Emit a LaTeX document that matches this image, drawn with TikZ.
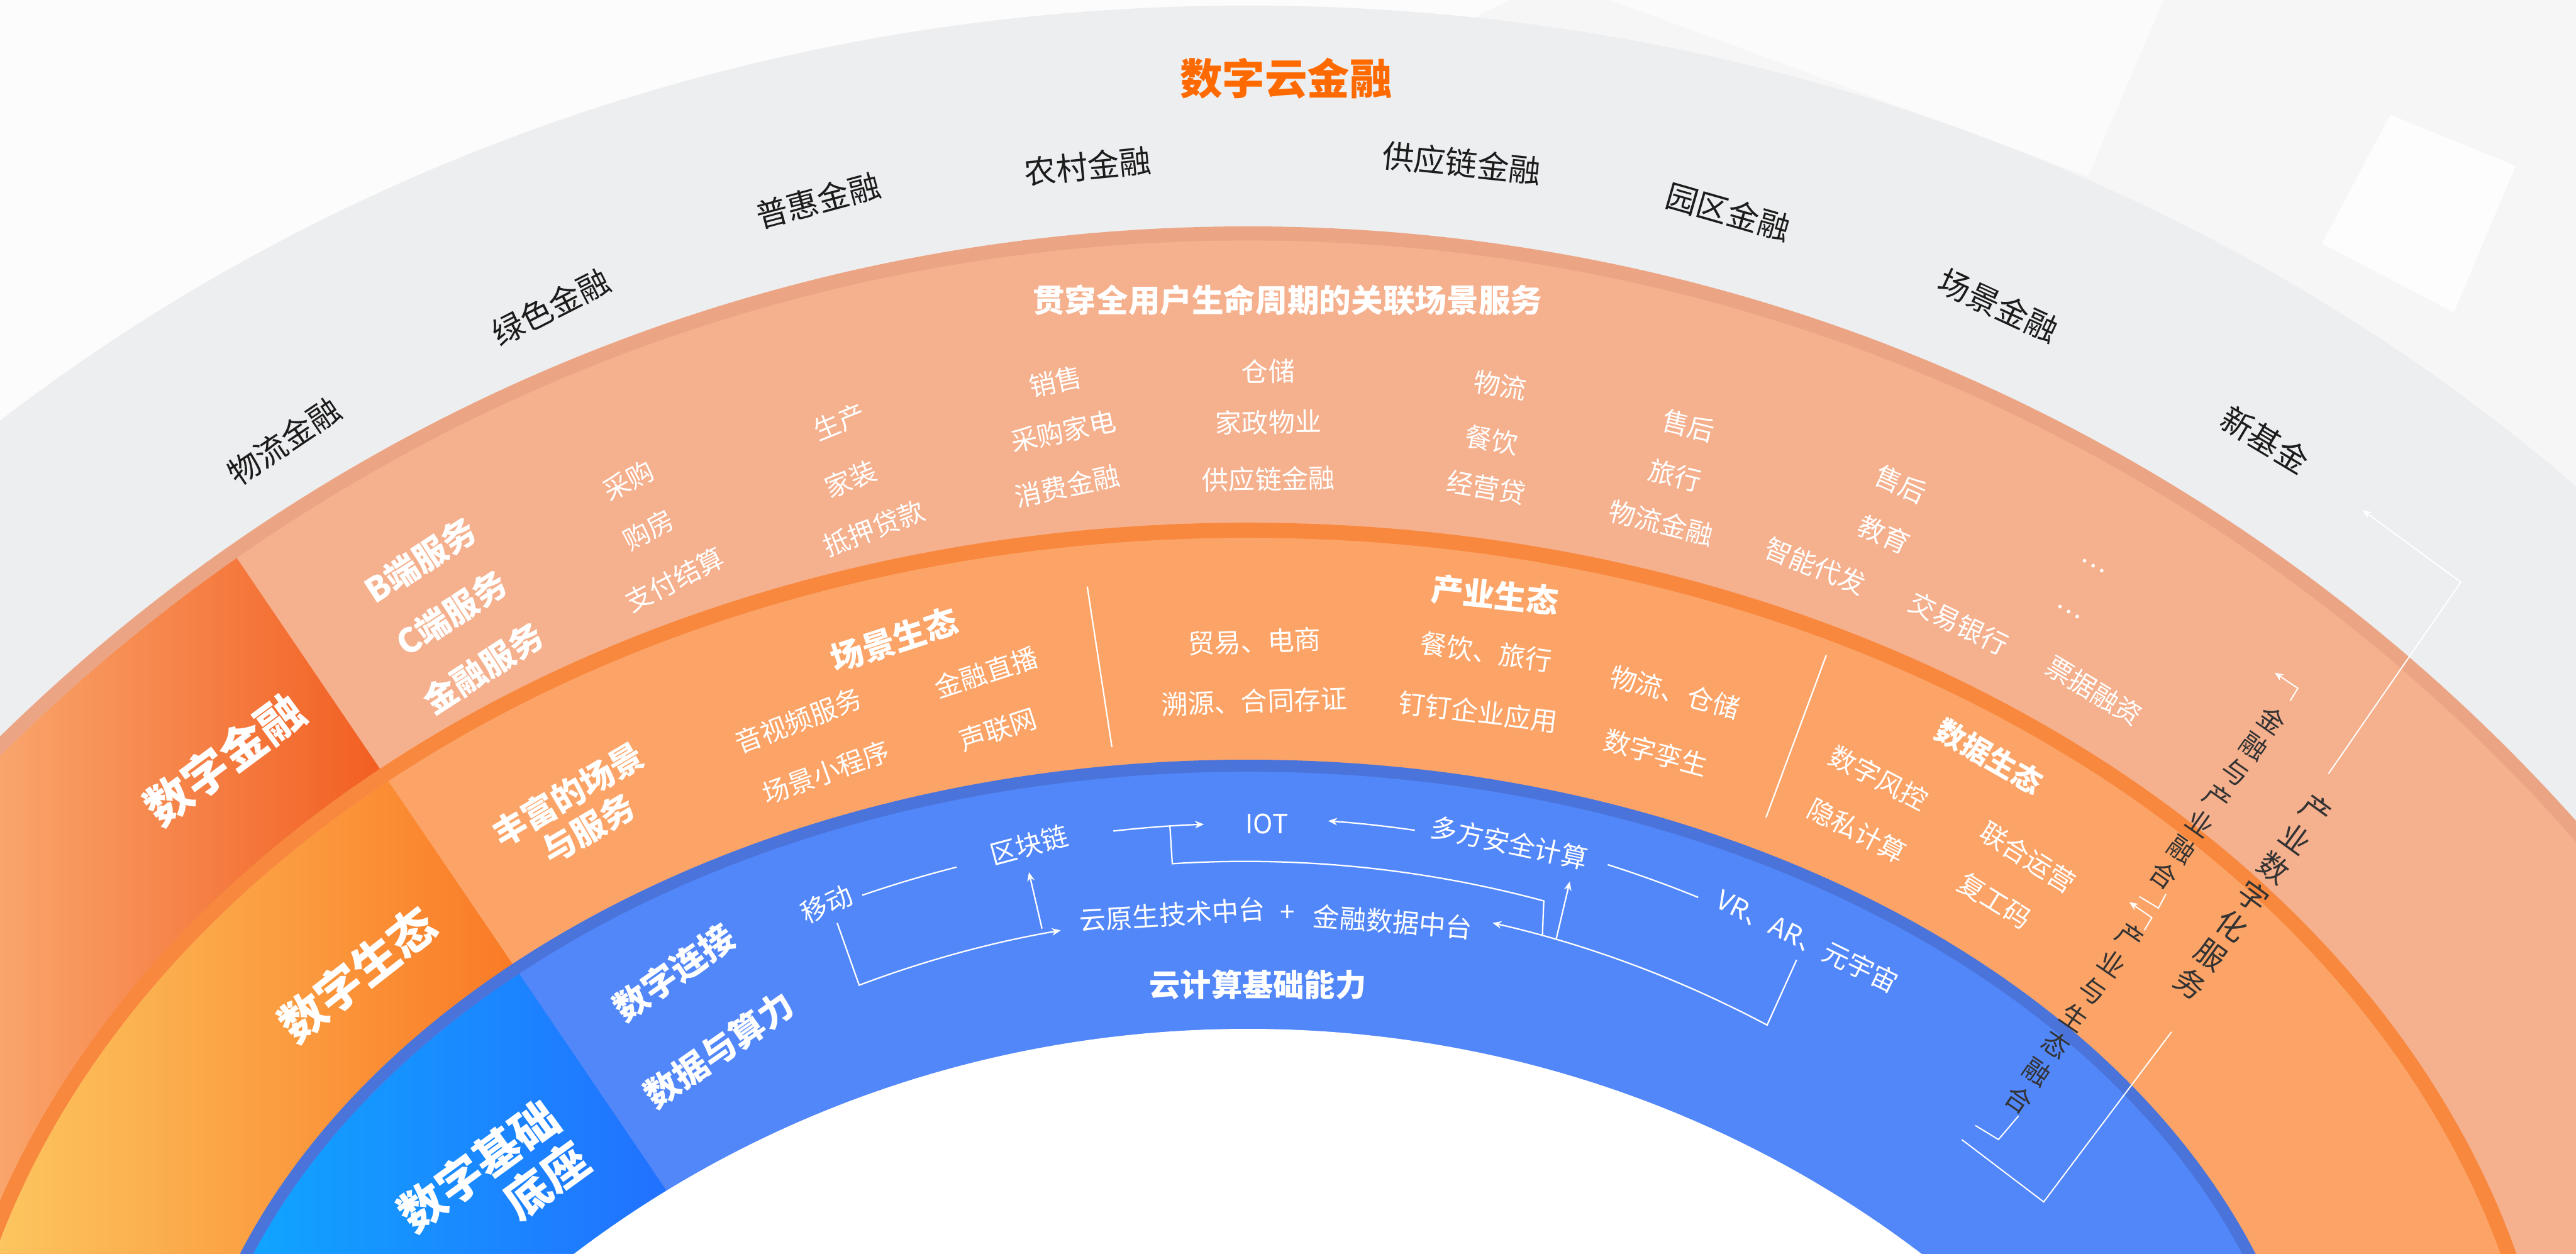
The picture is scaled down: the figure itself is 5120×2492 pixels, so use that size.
\documentclass[tikz,border=0pt]{standalone}
\usepackage{fontspec}
\setmainfont{Noto Sans CJK SC}
\usetikzlibrary{arrows.meta}
\definecolor{bgc}{HTML}{F6F6F7}
\definecolor{grayband}{HTML}{EDEEF0}
\definecolor{salrim}{HTML}{ECA584}
\definecolor{salband}{HTML}{F5B08D}
\definecolor{orrim}{HTML}{F8883E}
\definecolor{orband}{HTML}{FCA467}
\definecolor{bluerim}{HTML}{4B74DB}
\definecolor{blueband}{HTML}{5287FA}
\definecolor{blkAl}{HTML}{F9A56C}
\definecolor{blkAr}{HTML}{F25D20}
\definecolor{blkBl}{HTML}{FCC55F}
\definecolor{blkBr}{HTML}{FA7A26}
\definecolor{blkCl}{HTML}{0FA7FF}
\definecolor{blkCr}{HTML}{2270FF}
\definecolor{titleor}{HTML}{FF6A00}
\definecolor{lbl}{HTML}{1C1C1C}
\definecolor{vtxt}{HTML}{333333}
\tikzset{
  glabel/.style={text=lbl, inner sep=0pt, font=\fontsize{18}{20}\selectfont},
  wlight/.style={text=white, inner sep=0pt, font=\fontsize{15}{17}\selectfont},
  wbold/.style={text=white, inner sep=0pt, font=\bfseries\fontsize{19}{21}\selectfont},
  wbig/.style={text=white, inner sep=0pt, font=\bfseries\fontsize{26}{29}\selectfont},
  vcol/.style={text=vtxt, inner sep=0pt, align=center},
  conn/.style={draw=white, line width=0.8pt},
  tip/.style={-{Stealth[length=5pt,width=4.2pt]}},
}
\begin{document}
\begin{tikzpicture}[x=0.01cm,y=0.01cm]
\useasboundingbox (0,0) rectangle (5120,-2492);
\begin{scope}
\clip (0,0) rectangle (5120,-2492);
\fill[bgc] (0,0) rectangle (5120,-2492);
\fill[white,opacity=0.7] (0,0) -- (3000,0) -- (0,-1500) -- cycle;
\fill[white,opacity=0.8] (4615,-484) -- (4751,-228) -- (5000,-330) -- (4877,-621) -- cycle;
\fill[white,opacity=0.6] (3200,0) -- (4300,0) -- (4150,-350) -- cycle;
% bands
\fill[grayband] (2480,-3500) ellipse [x radius=3840, y radius=3489];
\fill[salrim] (2480,-3990) circle [radius=3540];
\fill[salband] (2480,-3990) circle [radius=3512];
\begin{scope}
\clip (2480,-3990) circle [radius=3512];
\clip (-600,0) -- (-283,0) -- (1410,-2492) -- (-600,-2492) -- cycle;
\shade[left color=blkAl, right color=blkAr] (0,0) rectangle (770,-2492);
\end{scope}
\fill[orrim] (2480,-3000) ellipse [x radius=2610, y radius=1961];
\fill[orband] (2480,-3000) ellipse [x radius=2580, y radius=1931];
\begin{scope}
\clip (2480,-3000) ellipse [x radius=2580, y radius=1931];
\clip (-600,0) -- (-283,0) -- (1410,-2492) -- (-600,-2492) -- cycle;
\shade[left color=blkBl, right color=blkBr] (0,0) rectangle (1030,-2492);
\end{scope}
\fill[bluerim] (2480,-3000) ellipse [x radius=2130, y radius=1490];
\fill[blueband] (2480,-3000) ellipse [x radius=2106, y radius=1466];
\begin{scope}
\clip (2480,-3000) ellipse [x radius=2106, y radius=1466];
\clip (-600,0) -- (-283,0) -- (1410,-2492) -- (-600,-2492) -- cycle;
\shade[left color=blkCl, right color=blkCr] (460,0) rectangle (1340,-2492);
\end{scope}
\fill[white] (2480,-4100) ellipse [x radius=2150, y radius=2055];
\end{scope}

% title and gray band labels
\node[text=titleor, inner sep=0pt, font=\bfseries\fontsize{24}{26}\selectfont] (title) at (2556,-156) {数字云金融};
\node[glabel, rotate=34] (g1) at (564,-877) {物流金融};
\node[glabel, rotate=27] (g2) at (1095,-610) {绿色金融};
\node[glabel, rotate=15] (g3) at (1626,-398) {普惠金融};
\node[glabel, rotate=5.7] (g4) at (2162,-330) {农村金融};
\node[glabel, rotate=-6] (g5) at (2905,-324) {供应链金融};
\node[glabel, rotate=-16] (g6) at (3435,-421) {园区金融};
\node[glabel, rotate=-24.8] (g7) at (3972,-607) {场景金融};
\node[glabel, rotate=-31] (g8) at (4502,-874) {新基金};

% salmon band
\node[wbold, font=\bfseries\fontsize{18}{20}\selectfont] (sTitle) at (2559,-597) {贯穿全用户生命周期的关联场景服务};
\node[wbold, rotate=33] (sB) at (835,-1114) {B端服务};
\node[wbold, rotate=33] (sC) at (897,-1219) {C端服务};
\node[wbold, rotate=33] (sF) at (960,-1328) {金融服务};
\node[wlight, rotate=28] (s11) at (1249,-955) {采购};
\node[wlight, rotate=28] (s12) at (1289,-1053) {购房};
\node[wlight, rotate=27] (s13) at (1341,-1152) {支付结算};
\node[wlight, rotate=22] (s21) at (1668,-839) {生产};
\node[wlight, rotate=22] (s22) at (1691,-952) {家装};
\node[wlight, rotate=21] (s23) at (1737,-1050) {抵押贷款};
\node[wlight, rotate=12] (s31) at (2098,-759) {销售};
\node[wlight, rotate=12] (s32) at (2113,-857) {采购家电};
\node[wlight, rotate=12] (s33) at (2121,-966) {消费金融};
\node[wlight, rotate=1] (s41) at (2521,-738) {仓储};
\node[wlight, rotate=1] (s42) at (2521,-839) {家政物业};
\node[wlight, rotate=1] (s43) at (2521,-952) {供应链金融};
\node[wlight, rotate=-9.5] (s51) at (2982,-766) {物流};
\node[wlight, rotate=-9.5] (s52) at (2965,-875) {餐饮};
\node[wlight, rotate=-9.5] (s53) at (2954,-969) {经营贷};
\node[wlight, rotate=-14] (s61) at (3356,-846) {售后};
\node[wlight, rotate=-14] (s62) at (3329,-945) {旅行};
\node[wlight, rotate=-14] (s63) at (3302,-1039) {物流金融};
\node[wlight, rotate=-24] (s71) at (3778,-962) {售后};
\node[wlight, rotate=-24] (s72) at (3745,-1062) {教育};
\node[wlight, rotate=-22] (s73) at (3608,-1125) {智能代发};
\node[wlight, rotate=-26] (s81) at (3893,-1239) {交易银行};
\node[wlight, rotate=-31] (s82) at (4162,-1373) {票据融资};
\node[wlight, rotate=-30] (s91) at (4160,-1125) {…};
\node[wlight, rotate=-30] (s92) at (4111,-1216) {…};

% left blocks
\node[wbig, rotate=36.5] (kA) at (446,-1509) {数字金融};
\node[wbig, rotate=38] (kB) at (710,-1937) {数字生态};
\node[wbig, rotate=36, align=right] (kC) at (981,-2359) {数字基础\\底座};

% orange band
\node[wbold, rotate=30.5, align=center, font=\bfseries\fontsize{19}{22.3}\selectfont] (oR) at (1149,-1613) {丰富的场景\\与服务};
\node[wbold, rotate=18, font=\bfseries\fontsize{18.5}{20}\selectfont] (oS) at (1777,-1271) {场景生态};
\node[wlight, rotate=18] (o11) at (1960,-1336) {金融直播};
\node[wlight, rotate=21] (o12) at (1587,-1432) {音视频服务};
\node[wlight, rotate=18] (o13) at (1983,-1450) {声联网};
\node[wlight, rotate=20] (o14) at (1642,-1535) {场景小程序};
\node[wbold, rotate=-6, font=\bfseries\fontsize{18}{20}\selectfont] (oI) at (2971,-1183) {产业生态};
\node[wlight, rotate=2] (o21) at (2493,-1275) {贸易、电商};
\node[wlight, rotate=2] (o22) at (2493,-1394) {溯源、合同存证};
\node[wlight, rotate=-8] (o23) at (2954,-1296) {餐饮、旅行};
\node[wlight, rotate=-7] (o24) at (2938,-1415) {钉钉企业应用};
\node[wlight, rotate=-15] (o25) at (3329,-1376) {物流、仓储};
\node[wlight, rotate=-15] (o26) at (3291,-1496) {数字孪生};
\node[wbold, rotate=-30, font=\bfseries\fontsize{16.5}{18}\selectfont] (oD) at (3954,-1503) {数据生态};
\node[wlight, rotate=-27.4] (o31) at (3734,-1546) {数字风控};
\node[wlight, rotate=-27.4] (o32) at (3691,-1651) {隐私计算};
\node[wlight, rotate=-32] (o33) at (4030,-1704) {联合运营};
\node[wlight, rotate=-32] (o34) at (3965,-1790) {复工码};
\coordinate (d1a) at (2161,-1166);
\coordinate (d1b) at (2210,-1485);
\coordinate (d2a) at (3630,-1302);
\coordinate (d2b) at (3510,-1625);
\draw[conn] (d1a) -- (d1b);
\draw[conn] (d2a) -- (d2b);

% blue band
\node[wbold, rotate=35, font=\bfseries\fontsize{19.5}{21}\selectfont] (bC) at (1339,-1933) {数字连接};
\node[wbold, rotate=35, font=\bfseries\fontsize{19.5}{21}\selectfont] (bD) at (1429,-2086) {数据与算力};
\node[wbold, font=\bfseries\fontsize{17.5}{19}\selectfont] (bY) at (2500,-1957) {云计算基础能力};
\node[wlight, rotate=25] (tM) at (1643,-1797) {移动};
\node[wlight, rotate=15] (tB) at (2045,-1679) {区块链};
\node[wlight] (tI) at (2518,-1637) {IOT};
\node[wlight, rotate=-12] (tD) at (3000,-1675) {多方安全计算};
\node[wlight, rotate=-26] (tV) at (3593,-1870) {VR、AR、元宇宙};
\node[wlight, rotate=3.7] (tP1) at (2330,-1818) {云原生技术中台};
\node[wlight] (tP2) at (2559,-1816) {+};
\node[wlight, rotate=-4.3] (tP3) at (2768,-1832) {金融数据中台};

\begin{scope}[shift={(2475,-3990)}]
 \coordinate (aMa) at (109.0:2338);
 \draw[conn] (aMa) arc[start angle=109.0, end angle=104.2, radius=2338];
 \coordinate (aBa) at (96.4:2353);
 \draw[conn,tip] (aBa) arc[start angle=96.4, end angle=92.0, radius=2353];
 \coordinate (aDa) at (81.8:2364);
 \draw[conn,tip] (aDa) arc[start angle=81.8, end angle=86.0, radius=2364];
 \coordinate (aVa) at (72.4:2383);
 \draw[conn] (aVa) arc[start angle=72.4, end angle=67.8, radius=2383];
 \coordinate (bIa) at (93.65:2353);
 \coordinate (bIb) at (93.65:2278);
 \coordinate (bIc) at (74.5:2210);
 \draw[conn] (bIa) -- (bIb) arc[start angle=93.65, end angle=74.9, radius=2278] -- (bIc);
 \coordinate (uBa) at (100.67:2182);
 \coordinate (uBb) at (100.79:2297);
 \draw[conn,tip] (uBa) -- (uBb);
 \coordinate (bMa) at (110.62:2303);
 \coordinate (bMb) at (110.69:2172);
 \draw[conn,tip] (bMa) -- (bMb) arc[start angle=110.69, end angle=99.72, radius=2172];
 \coordinate (uDa) at (73.77:2211);
 \coordinate (uDb) at (73.92:2329);
 \draw[conn,tip] (uDa) -- (uDb);
 \coordinate (bVa) at (62.24:2353);
 \coordinate (bVb) at (62.02:2211);
 \draw[conn,tip] (bVa) -- (bVb) arc[start angle=62.02, end angle=77.15, radius=2211];
\end{scope}

% right side vertical texts
\node[vcol, rotate=-36, font=\fontsize{17}{20.2}\selectfont] (va) at (4478,-1782) {产\\业\\数\\字\\化\\服\\务};
\node[vcol, rotate=-35, font=\fontsize{15}{17.8}\selectfont] (vb) at (4408,-1585) {金\\融\\与\\产\\业\\融\\合};
\node[vcol, rotate=-34.5, font=\fontsize{15}{18.6}\selectfont] (vc) at (4123,-2023) {产\\业\\与\\生\\态\\融\\合};

% right brackets
\coordinate (R1) at (3899,-2265);
\coordinate (R2) at (4062,-2389);
\coordinate (R3) at (4316,-2051);
\coordinate (R4) at (4628,-1538);
\coordinate (R5) at (4891,-1157);
\coordinate (R6) at (4696,-1014);
\draw[conn, line width=0.7pt] (R1) -- (R2) -- (R3);
\draw[conn, line width=0.7pt, tip] (R4) -- (R5) -- (R6);
\coordinate (Q1) at (4552,-1393);
\coordinate (Q2) at (4567,-1368);
\coordinate (Q3) at (4521,-1337);
\draw[conn, line width=0.7pt, tip] (Q1) -- (Q2) -- (Q3);
\coordinate (Q4) at (4305,-1777);
\coordinate (Q5) at (4290,-1805);
\coordinate (Q6) at (4252,-1782);
\draw[conn, line width=0.7pt] (Q4) -- (Q5) -- (Q6);
\coordinate (T1) at (4262,-1849);
\coordinate (T2) at (4277,-1824);
\coordinate (T3) at (4232,-1793);
\draw[conn, line width=0.7pt, tip] (T1) -- (T2) -- (T3);
\coordinate (T4) at (4012,-2218);
\coordinate (T5) at (3972,-2265);
\coordinate (T6) at (3926,-2237);
\draw[conn, line width=0.7pt] (T4) -- (T5) -- (T6);
\end{tikzpicture}
\end{document}
